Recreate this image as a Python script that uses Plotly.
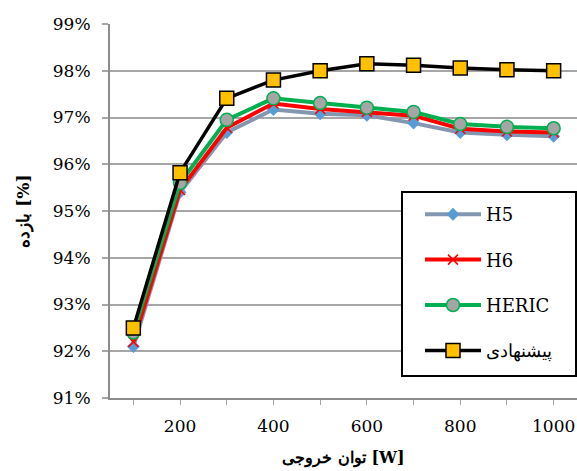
import plotly.graph_objects as go

power = [100, 200, 300, 400, 500, 600, 700, 800, 900, 1000]
h5 = [92.10, 95.40, 96.68, 97.17, 97.08, 97.05, 96.88, 96.68, 96.63, 96.60]
h6 = [92.20, 95.45, 96.78, 97.30, 97.18, 97.12, 97.04, 96.76, 96.70, 96.68]
heric = [92.40, 95.60, 96.95, 97.41, 97.31, 97.21, 97.12, 96.86, 96.80, 96.77]
proposed = [92.50, 95.82, 97.41, 97.80, 98.00, 98.15, 98.12, 98.06, 98.02, 98.00]

x_ticks = [100, 200, 300, 400, 500, 600, 700, 800, 900, 1000]
x_tick_text = ["", "200", "", "400", "", "600", "", "800", "", "1000"]
y_ticks = [91, 92, 93, 94, 95, 96, 97, 98, 99]
y_tick_text = [f"{v}%" for v in y_ticks]

names = ["H5", "H6", "HERIC", "پیشنهادی"]

serif = "DejaVu Serif"

fig = go.Figure()
fig.add_trace(go.Scatter(
    x=power, y=h5, name=names[0], mode="lines+markers", legendgroup="a",
    line=dict(color="#8497B0", width=4),
    marker=dict(symbol="diamond", size=10, color="#5B9BD5", line=dict(width=0)),
))
fig.add_trace(go.Scatter(
    x=power, y=h6, name=names[1], mode="lines+markers", legendgroup="b",
    line=dict(color="#FF0000", width=4),
    marker=dict(symbol="x-thin", size=10, color="#FF0000", line=dict(width=1.5, color="#FF0000")),
))
fig.add_trace(go.Scatter(
    x=power, y=heric, name=names[2], mode="lines+markers", legendgroup="c",
    line=dict(color="#00B050", width=4),
    marker=dict(symbol="circle", size=13, color="#A5A5A5", line=dict(width=1.5, color="#00B050")),
))
fig.add_trace(go.Scatter(
    x=power, y=proposed, name=names[3], mode="lines+markers", legendgroup="d",
    line=dict(color="#000000", width=3.5),
    marker=dict(symbol="square", size=14, color="#FFC000", line=dict(width=1.5, color="#000000")),
))

# legend frame
fig.add_shape(type="rect", xref="paper", yref="paper",
              x0=(402 - 110) / 467, x1=(576 - 110) / 467,
              y0=(398 - 376) / 374, y1=(398 - 192) / 374,
              line=dict(color="black", width=2), fillcolor="white", layer="above")

fig.update_layout(
    width=577, height=471,
    margin=dict(l=110, r=0, t=24, b=73),
    paper_bgcolor="white", plot_bgcolor="white",
    font=dict(family=serif, size=17, color="black"),
    showlegend=True,
    legend=dict(
        x=(420 - 110) / 467, y=(398 - 196) / 374, xanchor="left", yanchor="top",
        bgcolor="rgba(0,0,0,0)", borderwidth=0,
        font=dict(family=serif, size=18, color="black"),
        tracegroupgap=19, itemwidth=56,
    ),
    xaxis=dict(
        range=[50, 1050], tickmode="array", tickvals=x_ticks, ticktext=x_tick_text,
        showgrid=False, zeroline=False, showline=True, linecolor="#8C8C8C", linewidth=2,
        ticks="outside", ticklen=5, tickcolor="#A6A6A6", tickwidth=1,
        tickfont=dict(family=serif, size=17), ticklabelstandoff=7,
        title=dict(text="<b>توان خروجی [W]</b>", font=dict(family=serif, size=16), standoff=16),
    ),
    yaxis=dict(
        range=[91, 99], tickmode="array", tickvals=y_ticks, ticktext=y_tick_text,
        showgrid=True, gridcolor="#A6A6A6", gridwidth=1.5, zeroline=False,
        showline=True, linecolor="#8C8C8C", linewidth=2,
        ticks="outside", ticklen=6, tickcolor="#A6A6A6", tickwidth=1.5,
        tickfont=dict(family=serif, size=17), ticklabelstandoff=8,
        title=dict(text="<b>بازده [%]</b>", font=dict(family=serif, size=17), standoff=19),
    ),
)

fig.write_html("out.html")
